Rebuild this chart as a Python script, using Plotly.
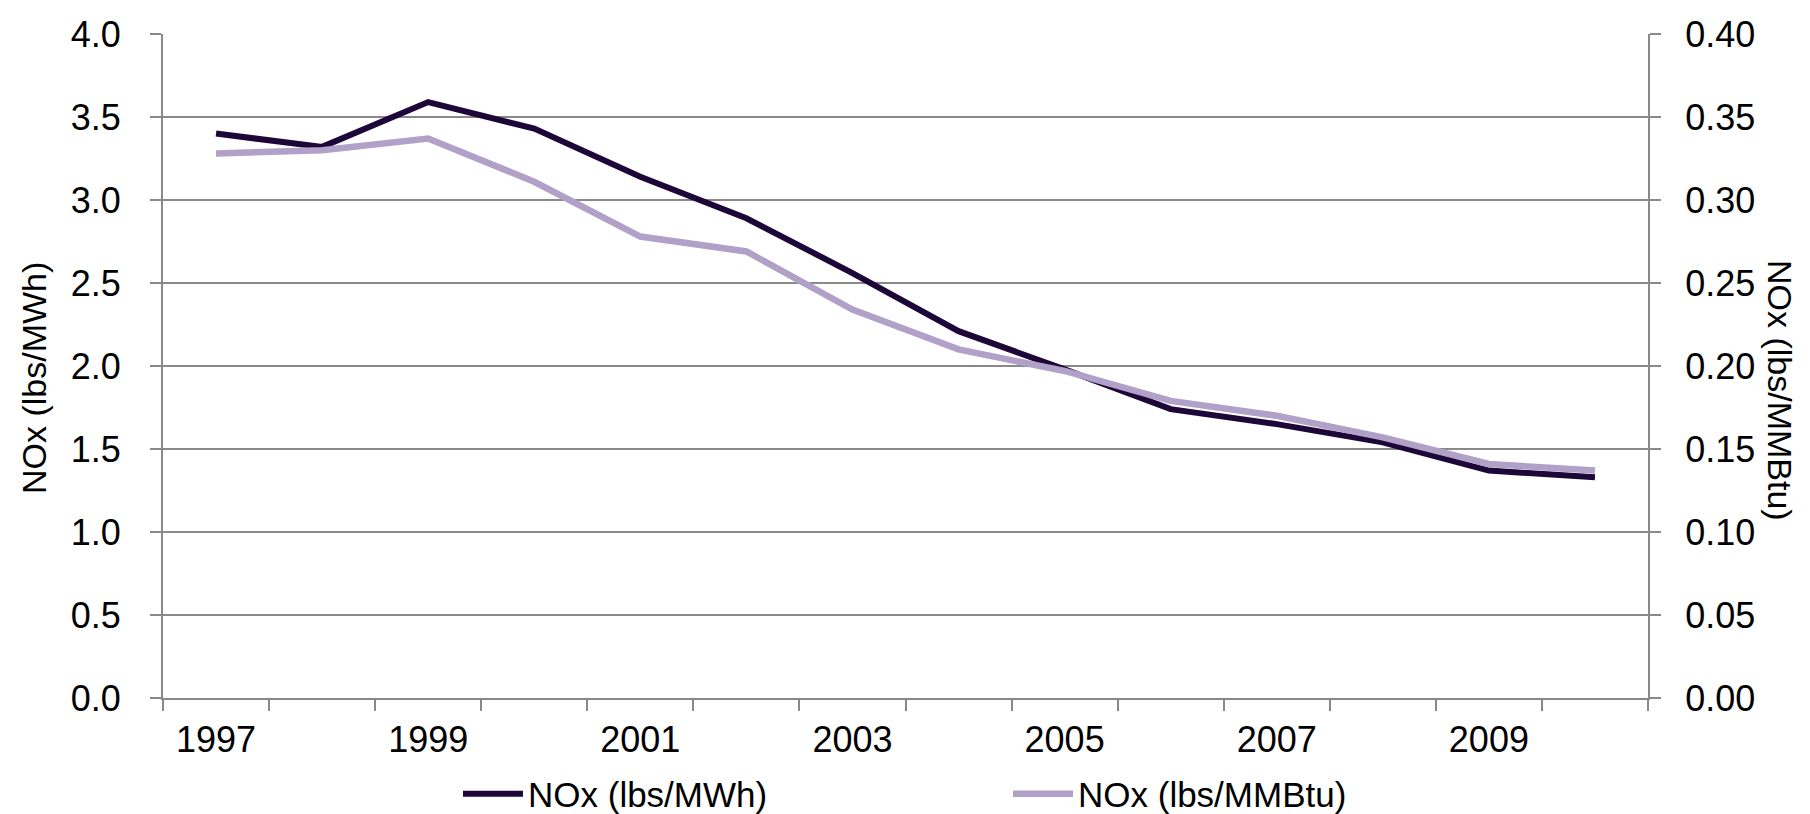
import plotly.graph_objects as go

years = list(range(1997, 2011))
nox_mwh = [3.40, 3.32, 3.59, 3.43, 3.14, 2.89, 2.56, 2.21, 1.98, 1.74, 1.65, 1.54, 1.37, 1.33]
nox_mmbtu = [0.328, 0.330, 0.337, 0.311, 0.278, 0.269, 0.234, 0.210, 0.197, 0.179, 0.170, 0.157, 0.141, 0.137]
label_years = years[::2]
series_names = ["NOx (lbs/MWh)", "NOx (lbs/MMBtu)"]
left_title = "NOx (lbs/MWh)"
right_title = "NOx (lbs/MMBtu)"

DARK = "#1D0638"
LIGHT = "#B1A0C7"
GRID = "#898989"
FONT = "Liberation Sans, Arial, sans-serif"
FS_TICK = 36
FS_LEG = 35
FS_TITLE = 34

W, H = 1810, 814
ML, MR, MT, MB = 155, 170, 26, 124
PW = W - ML - MR
PH = H - MT - MB

fig = go.Figure()
fig.add_trace(go.Scatter(x=years, y=nox_mwh, name=series_names[0], mode="lines",
                         line=dict(color=DARK, width=6), yaxis="y"))
fig.add_trace(go.Scatter(x=years, y=nox_mmbtu, name=series_names[1], mode="lines",
                         line=dict(color=LIGHT, width=6.5), yaxis="y2"))

boundaries = [y - 0.5 for y in years] + [years[-1] + 0.5]

fig.update_layout(
    width=W, height=H,
    margin=dict(l=ML, r=MR, t=MT, b=MB, autoexpand=False),
    paper_bgcolor="white", plot_bgcolor="white",
    font=dict(family=FONT, size=FS_TICK, color="black"),
    showlegend=True,
    legend=dict(orientation="h", x=(450 - ML) / PW, xanchor="left",
                y=-(786 - (MT + PH)) / PH, yanchor="middle",
                font=dict(size=FS_LEG), entrywidth=475, itemwidth=60,
                bgcolor="rgba(0,0,0,0)"),
    xaxis=dict(range=[years[0] - 0.5, years[-1] + 0.5], automargin=False,
               tickmode="array", tickvals=label_years,
               ticktext=[str(y) for y in label_years],
               ticks="", showgrid=False, zeroline=False,
               showline=True, linecolor=GRID, linewidth=2,
               ticklabelstandoff=9,
               minor=dict(tickmode="array", tickvals=boundaries, ticks="outside",
                          ticklen=11, tickwidth=2, tickcolor=GRID, showgrid=False)),
    yaxis=dict(range=[0, 4], dtick=0.5, tick0=0, tickformat=".1f", automargin=False,
               showgrid=True, gridcolor=GRID, gridwidth=2, zeroline=False,
               showline=True, linecolor=GRID, linewidth=2,
               ticks="outside", ticklen=11, tickwidth=2, tickcolor=GRID,
               ticklabelstandoff=22),
    yaxis2=dict(range=[0, 0.4], dtick=0.05, tick0=0, tickformat=".2f", automargin=False,
                overlaying="y", side="right", showgrid=False, zeroline=False,
                showline=True, linecolor=GRID, linewidth=2,
                ticks="outside", ticklen=11, tickwidth=2, tickcolor=GRID,
                ticklabelstandoff=17),
    annotations=[
        dict(text=left_title, textangle=-90, xref="paper", yref="paper",
             x=(26 - ML) / PW, y=(MT + PH - 370) / PH, xanchor="center", yanchor="middle",
             showarrow=False, font=dict(size=FS_TITLE)),
        dict(text=right_title, textangle=90, xref="paper", yref="paper",
             x=(1772 - ML) / PW, y=(MT + PH - 383) / PH, xanchor="center", yanchor="middle",
             showarrow=False, font=dict(size=FS_TITLE)),
    ],
)

fig.write_html("out.html")
